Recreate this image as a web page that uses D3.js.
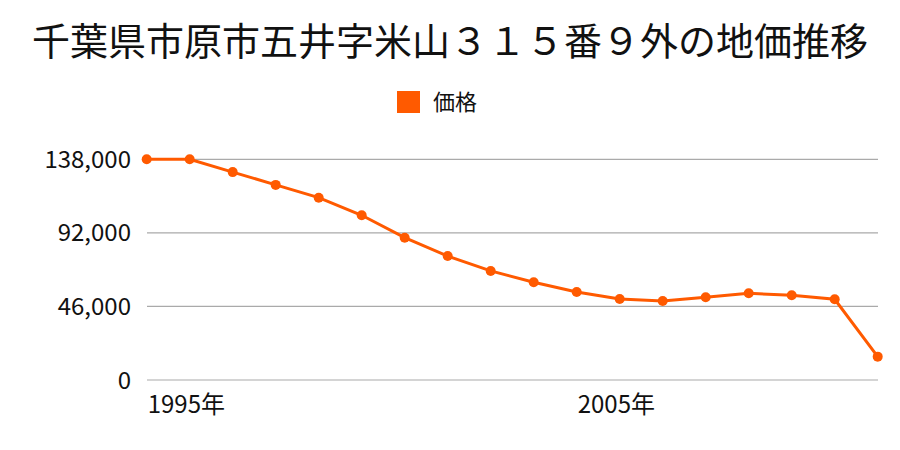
<!DOCTYPE html>
<html><head><meta charset="utf-8">
<script src="https://cdn.jsdelivr.net/npm/d3@7"></script>
<style>body{margin:0;background:#fff}svg{display:block}text{font-family:"Noto Sans CJK JP","Noto Sans",sans-serif}</style>
</head><body>
<svg id="c" width="900" height="450"></svg>
<script>
const title = "千葉県市原市五井字米山３１５番９外の地価推移";
const seriesName = "価格";
const years = [1995,1996,1997,1998,1999,2000,2001,2002,2003,2004,2005,2006,2007,2008,2009,2010,2011,2012];
const prices = [138000,138000,130000,122000,114000,103000,89000,77500,68200,61100,55000,50700,49400,51700,54200,53000,50500,14600];
const yTicks = [0,46000,92000,138000];
const xTickYears = [1995,2005];

const svg = d3.select("#c");
const color = "#ff5a00";
const x = d3.scalePoint().domain(years).range([146.7,877.7]);
const y = d3.scaleLinear().domain([0,138000]).range([380,159.3]);

svg.append("text").attr("x",450).attr("y",55).attr("text-anchor","middle")
  .attr("font-size",38).attr("fill","#111").text(title);

svg.append("rect").attr("x",397).attr("y",91).attr("width",23).attr("height",22).attr("fill",color);
svg.append("text").attr("x",433).attr("y",110).attr("font-size",22).attr("fill","#111").text(seriesName);

const grid = svg.append("g");
yTicks.forEach(t=>{
  grid.append("line").attr("x1",147).attr("x2",878).attr("y1",y(t)).attr("y2",y(t))
    .attr("stroke","#aaa").attr("stroke-width",1.2);
  grid.append("text").attr("x",131).attr("y",y(t)+8.5).attr("text-anchor","end")
    .attr("font-size",24).attr("fill","#111").text(d3.format(",")(t));
});

xTickYears.forEach(yr=>{
  svg.append("text").attr("x", x(yr)+1).attr("y",413)
    .attr("text-anchor","start")
    .attr("font-size",24).attr("fill","#111").text(yr+"年");
});

const line = d3.line().x((d,i)=>x(years[i])).y(d=>y(d));
svg.append("path").datum(prices).attr("d",line).attr("fill","none")
  .attr("stroke",color).attr("stroke-width",3);
svg.selectAll("circle.pt").data(prices).enter().append("circle")
  .attr("cx",(d,i)=>x(years[i])).attr("cy",d=>y(d)).attr("r",5).attr("fill",color);
</script>
</body></html>
